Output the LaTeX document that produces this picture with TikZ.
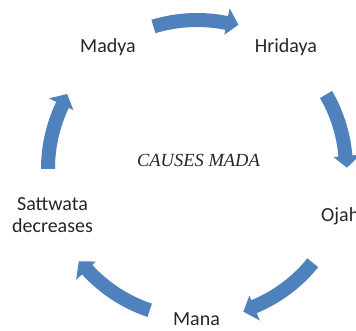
\documentclass[tikz,border=0pt]{standalone}
\usepackage{fontspec}
\setmainfont{Carlito}
\newfontfamily\timesit{Liberation Serif}
\usepackage{tikz}
\definecolor{arrowblue}{RGB}{79,129,189}

\begin{document}
\begin{tikzpicture}[x=1pt,y=1pt,
  lbl/.style={font=\fontsize{20}{22}\selectfont, text=black!85, inner sep=0pt},
  blk/.style={fill=arrowblue}]
\useasboundingbox (0,0) rectangle (356,331);

\node[lbl,anchor=base] (madya) at (108,278) {Madya};
\node[lbl,anchor=base] (hridaya) at (286,278) {Hridaya};
\node[lbl,anchor=base west] (ojah) at (321,109.3) {Ojah};
\node[lbl,anchor=base] (mana) at (196.5,5.3) {Mana};
\node[lbl,anchor=base,align=center] (sattwata) at (52.5,98.3) {Sattwata\\decreases};
\node[font=\timesit\itshape\fontsize{18.5}{20}\selectfont, text=black!85, inner sep=0pt] (causes) at (198.5,171) {CAUSES MADA};

%-------------------------------------
\begin{scope}[shift={(197,162)}]
% madya to hridaya
\fill[blk] (107:156) arc[start angle=107,end angle=78.5,radius=156pt] -- (78.5:164) -- (74:150)
  -- (78.5:137) -- (78.5:142) arc[start angle=78.5,end angle=107,radius=142pt] -- cycle;
% hridaya to ojah
\fill[blk] (30:156) arc[start angle=30,end angle=5,radius=156pt] -- (5:164) -- (0.5:150)
  -- (5:137) -- (5:142) arc[start angle=5,end angle=30,radius=142pt] -- cycle;
% ojah to mana
\fill[blk] (-39:156) arc[start angle=-39,end angle=-67.5,radius=156pt] -- (-67.5:164) -- (-72:150)
  -- (-67.5:137) -- (-67.5:142) arc[start angle=-67.5,end angle=-39,radius=142pt] -- cycle;
% mana to sattwata
\fill[blk] (251.5:156) arc[start angle=251.5,end angle=222.5,radius=156pt] -- (222.5:164) -- (218:150)
  -- (222.5:137) -- (222.5:142) arc[start angle=222.5,end angle=251.5,radius=142pt] -- cycle;
% sattwata to madya
\fill[blk] (180:156) arc[start angle=180,end angle=154.5,radius=156pt] -- (154.5:164) -- (150:150)
  -- (154.5:137) -- (154.5:142) arc[start angle=154.5,end angle=180,radius=142pt] -- cycle;
\end{scope}
\end{tikzpicture}
\end{document}
